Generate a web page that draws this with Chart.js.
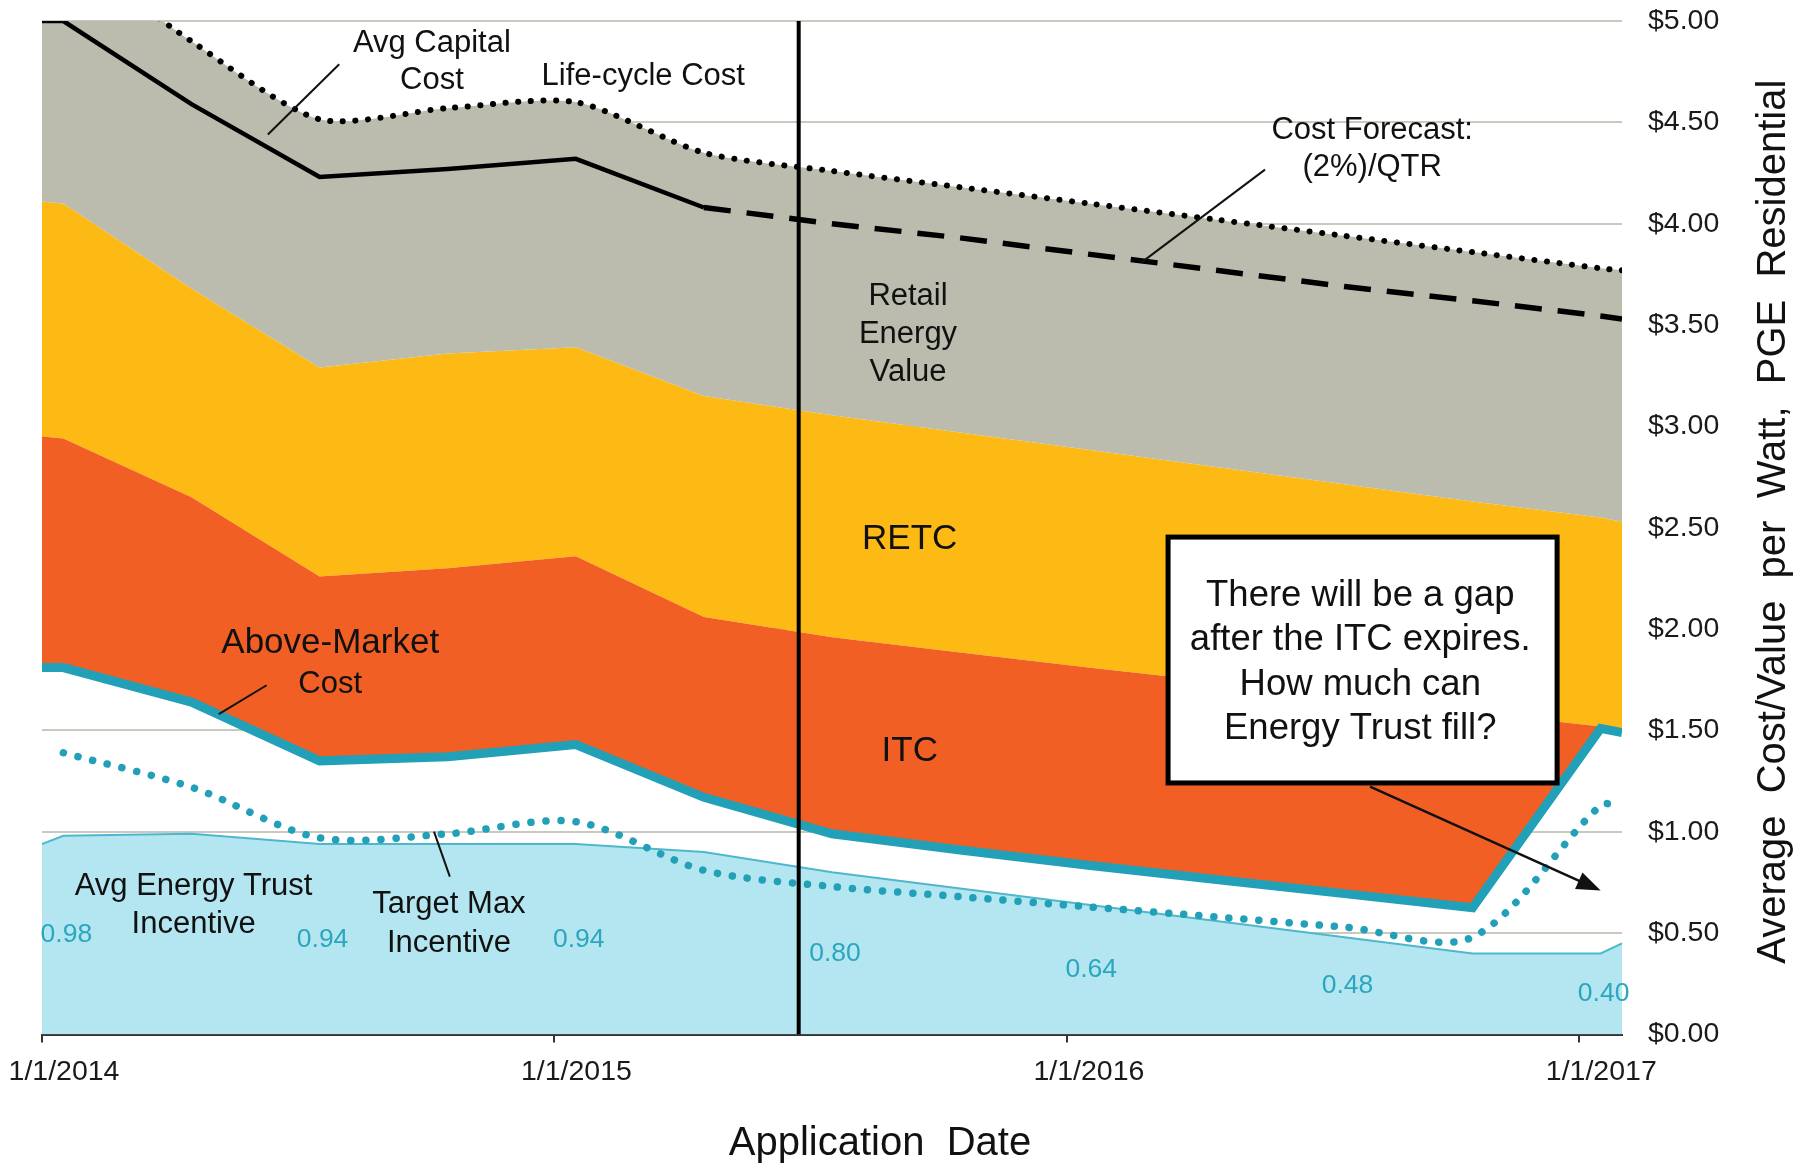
<!DOCTYPE html>
<html>
<head>
<meta charset="utf-8">
<title>Residential solar cost vs value</title>
<script src="https://cdn.jsdelivr.net/npm/chart.js@4.4.0/dist/chart.umd.min.js"></script>
<style>
  html, body { margin: 0; padding: 0; background: #fff; }
  #wrap { width: 1810px; height: 1164px; }
</style>
</head>
<body>
<div id="wrap"><canvas id="costChart"></canvas></div>
<script>
// x values are months after 1/1/2014
const months      = [0, 0.5, 3.5, 6.5, 9.5, 12.5, 15.5, 18.5, 21.5, 24.5, 27.5, 30.5, 33.5, 36.5, 37];
const incentive   = [0.94, 0.98, 0.99, 0.94, 0.94, 0.94, 0.90, 0.80, 0.72, 0.64, 0.56, 0.48, 0.40, 0.40, 0.45];
const aboveMarket = [1.81, 1.81, 1.64, 1.35, 1.37, 1.43, 1.17, 0.99, 0.91, 0.835, 0.765, 0.695, 0.625, 1.51, 1.49];
const itcTop      = [2.95, 2.94, 2.65, 2.26, 2.30, 2.36, 2.06, 1.96, 1.885, 1.81, 1.74, 1.665, 1.59, 1.52, 1.505];
const retcTop     = [4.11, 4.10, 3.68, 3.29, 3.36, 3.39, 3.15, 3.055, 2.97, 2.885, 2.80, 2.715, 2.63, 2.55, 2.53];
const lifeCycle   = [5.35, 5.35, 4.90, 4.515, 4.57, 4.60, 4.35, 4.26, 4.18, 4.10, 4.02, 3.94, 3.86, 3.78, 3.77];
const avgCapital  = [5.00, 5.00, 4.59, 4.23, 4.27, 4.32, 4.08, null, null, null, null, null, null, null, null];
const forecast    = [null, null, null, null, null, null, 4.08, 4.00, 3.93, 3.85, 3.77, 3.69, 3.62, 3.545, 3.53];
const targetMax   = [null, 1.39, 1.22, 0.97, 0.99, 1.05, 0.81, 0.73, 0.68, 0.63, 0.58, 0.53, 0.48, 1.13, 1.13];

const yearTicks  = [0, 12, 24, 36];
const yearLabels = ['1/1/2014', '1/1/2015', '1/1/2016', '1/1/2017'];
const labelIdx   = [1, 3, 5, 7, 9, 11, 13];   // incentive points that carry a value label
const itcLine    = 17.72;                      // vertical marker, months

const FONT = '"Liberation Sans", Arial, Helvetica, sans-serif';
Chart.defaults.font.family = FONT;

function pts(vals) {
    return months.map((m, i) => ({ x: m, y: vals[i] })).filter(p => p.y !== null);
}

// text notes, in chart units (months, $/W)
const notes = [
    { x: 9.13,  y: 4.89,  size: 31, text: 'Avg Capital' },
    { x: 9.13,  y: 4.705, size: 31, text: 'Cost' },
    { x: 14.08, y: 4.726, size: 31, text: 'Life-cycle Cost' },
    { x: 31.15, y: 4.46,  size: 31, text: 'Cost Forecast:' },
    { x: 31.15, y: 4.276, size: 31, text: '(2%)/QTR' },
    { x: 20.28, y: 3.64,  size: 31, text: 'Retail' },
    { x: 20.28, y: 3.452, size: 31, text: 'Energy' },
    { x: 20.28, y: 3.264, size: 31, text: 'Value' },
    { x: 20.32, y: 2.444, size: 35, text: 'RETC' },
    { x: 20.32, y: 1.396, size: 35, text: 'ITC' },
    { x: 6.75,  y: 1.931, size: 35, text: 'Above-Market' },
    { x: 6.75,  y: 1.727, size: 31, text: 'Cost' },
    { x: 3.55,  y: 0.73,  size: 31, text: 'Avg Energy Trust' },
    { x: 3.55,  y: 0.542, size: 31, text: 'Incentive' },
    { x: 9.53,  y: 0.641, size: 31, text: 'Target Max' },
    { x: 9.53,  y: 0.451, size: 31, text: 'Incentive' }
];
const leaders = [
    [6.96, 4.787, 5.29, 4.44],
    [28.64, 4.267, 25.75, 3.809],
    [5.26, 1.723, 4.14, 1.581],
    [9.55, 0.779, 9.18, 1.001]
];
const calloutText = ['There will be a gap', 'after the ITC expires.', 'How much can', 'Energy Trust fill?'];

// keep the plot area where the layout padding puts it
function noScalePadding(s) {
    s.paddingTop = 0;
    s.paddingBottom = 0;
    s.paddingLeft = 0;
    s.paddingRight = 0;
}

const notesPlugin = {
    id: 'notes',
    afterDatasetsDraw(chart) {
        const ctx = chart.ctx;
        const xs = chart.scales.x, ys = chart.scales.y;
        const px = v => xs.getPixelForValue(v);
        const py = v => ys.getPixelForValue(v);
        ctx.save();
        ctx.textAlign = 'center';
        ctx.textBaseline = 'middle';

        // incentive values sit in the middle of the light blue area
        ctx.fillStyle = '#2BA6BE';
        ctx.font = '26.5px ' + FONT;
        labelIdx.forEach(i => {
            ctx.fillText(incentive[i].toFixed(2), px(months[i]) + 3, py(incentive[i] / 2));
        });

        // leader lines
        ctx.strokeStyle = '#111';
        ctx.lineWidth = 2;
        leaders.forEach(l => {
            ctx.beginPath();
            ctx.moveTo(px(l[0]), py(l[1]));
            ctx.lineTo(px(l[2]), py(l[3]));
            ctx.stroke();
        });

        ctx.fillStyle = '#111';
        notes.forEach(n => {
            ctx.font = n.size + 'px ' + FONT;
            ctx.fillText(n.text, px(n.x), py(n.y));
        });

        // arrow from callout
        const ax1 = px(31.10), ay1 = py(1.223), ax2 = px(36.50), ay2 = py(0.71);
        const ang = Math.atan2(ay2 - ay1, ax2 - ax1);
        ctx.lineWidth = 2.5;
        ctx.beginPath();
        ctx.moveTo(ax1, ay1);
        ctx.lineTo(ax2 - 18 * Math.cos(ang), ay2 - 18 * Math.sin(ang));
        ctx.stroke();
        ctx.beginPath();
        ctx.moveTo(ax2, ay2);
        ctx.lineTo(ax2 - 24 * Math.cos(ang) + 9 * Math.sin(ang), ay2 - 24 * Math.sin(ang) - 9 * Math.cos(ang));
        ctx.lineTo(ax2 - 24 * Math.cos(ang) - 9 * Math.sin(ang), ay2 - 24 * Math.sin(ang) + 9 * Math.cos(ang));
        ctx.closePath();
        ctx.fill();

        // callout box
        const bx1 = px(26.37), by1 = py(2.454), bx2 = px(35.48), by2 = py(1.241);
        ctx.fillStyle = '#fff';
        ctx.fillRect(bx1, by1, bx2 - bx1, by2 - by1);
        ctx.lineWidth = 5;
        ctx.strokeStyle = '#000';
        ctx.strokeRect(bx1, by1, bx2 - bx1, by2 - by1);
        ctx.fillStyle = '#111';
        ctx.font = '36.5px ' + FONT;
        [2.163, 1.945, 1.726, 1.508].forEach((v, i) => ctx.fillText(calloutText[i], px(30.87), py(v)));

        // axis titles
        ctx.font = '40px ' + FONT;
        ctx.fillText('Application  Date', 880, 1144);
        ctx.save();
        ctx.translate(1774, (chart.chartArea.top + chart.chartArea.bottom) / 2 - 6);
        ctx.rotate(-Math.PI / 2);
        ctx.fillText('Average  Cost/Value  per  Watt,  PGE  Residential', 0, 0);
        ctx.restore();

        ctx.restore();
    }
};

const ctx = document.getElementById('costChart').getContext('2d');

new Chart(ctx, {
    type: 'line',
    data: {
        datasets: [
            {   // ITC expiry marker
                data: [{ x: itcLine, y: 0 }, { x: itcLine, y: 5 }],
                borderColor: '#000', borderWidth: 4, fill: false
            },
            {   // Avg Capital Cost
                data: pts(avgCapital),
                borderColor: '#000', borderWidth: 4.5, fill: false
            },
            {   // Cost forecast (2%)/QTR
                data: pts(forecast),
                borderColor: '#000', borderWidth: 5.5, borderDash: [27, 16], fill: false
            },
            {   // Life-cycle cost, grey = retail energy value
                data: pts(lifeCycle),
                borderColor: '#000', borderWidth: 6, borderDash: [0.1, 12.5], borderCapStyle: 'round',
                tension: 0.25,
                backgroundColor: '#BBBCAE', fill: 7
            },
            {   // Above-market cost
                data: pts(aboveMarket),
                borderColor: '#21A0B7', borderWidth: 9, borderJoinStyle: 'miter', fill: false
            },
            {   // Target max incentive
                data: pts(targetMax),
                borderColor: '#21A0B7', borderWidth: 7.5, borderDash: [0.1, 15], borderCapStyle: 'round',
                tension: 0.3, fill: false
            },
            {   // ITC
                data: pts(itcTop),
                borderWidth: 0, borderColor: 'rgba(0,0,0,0)',
                backgroundColor: '#F15F25', fill: 4
            },
            {   // RETC
                data: pts(retcTop),
                borderWidth: 0, borderColor: 'rgba(0,0,0,0)',
                backgroundColor: '#FDB914', fill: 6
            },
            {   // Avg Energy Trust incentive
                data: pts(incentive),
                borderColor: '#4FB7CB', borderWidth: 2,
                backgroundColor: '#B3E6F0', fill: 'origin'
            }
        ]
    },
    options: {
        responsive: true,
        maintainAspectRatio: false,
        animation: false,
        events: [],
        elements: { point: { radius: 0 } },
        layout: {
            padding: { left: 42, top: 21, right: 0, bottom: 0 }
        },
        scales: {
            x: {
                type: 'linear',
                min: 0,
                max: 37,
                z: 1,
                afterBuildTicks: s => { s.ticks = yearTicks.map(v => ({ value: v })); },
                afterFit: s => { s.height = 129.5; noScalePadding(s); },
                grid: { drawOnChartArea: false, drawTicks: true, tickLength: 8, color: '#333', lineWidth: 2 },
                border: { display: true, color: '#333', width: 2 },
                ticks: {
                    padding: 13,
                    labelOffset: 22,
                    maxRotation: 0,
                    color: '#1a1a1a',
                    font: { size: 28.5 },
                    callback: (v) => yearLabels[yearTicks.indexOf(v)]
                }
            },
            y: {
                position: 'right',
                min: 0,
                max: 5,
                afterFit: s => { s.width = 188; noScalePadding(s); },
                grid: { color: '#C9C9BD', lineWidth: 2, drawTicks: false },
                border: { display: false },
                ticks: {
                    stepSize: 0.5,
                    padding: 26,
                    color: '#1a1a1a',
                    font: { size: 28.5 },
                    callback: v => '$' + v.toFixed(2)
                }
            }
        },
        plugins: {
            legend: { display: false },
            tooltip: { enabled: false },
            filler: { drawTime: 'beforeDatasetsDraw' }
        }
    },
    plugins: [notesPlugin]
});
</script>
</body>
</html>
